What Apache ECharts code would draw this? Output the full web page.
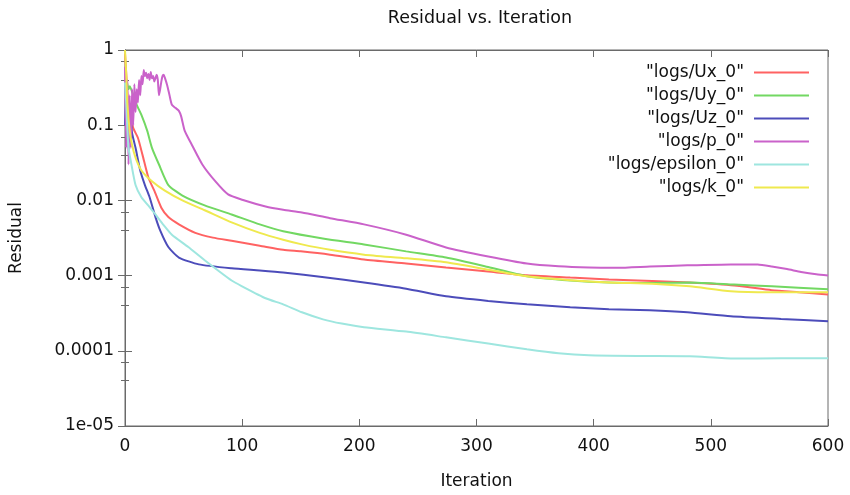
<!DOCTYPE html>
<html>
<head>
<meta charset="utf-8">
<script src="https://cdn.jsdelivr.net/npm/echarts@6/dist/echarts.min.js"></script>
<style>
html,body{margin:0;padding:0;background:#fff;}
#chart{width:850px;height:495px;}
</style>
</head>
<body>
<div id="chart"></div>
<script>
// ---- data ----
const seriesNames = ['"logs/Ux_0"', '"logs/Uy_0"', '"logs/Uz_0"', '"logs/p_0"', '"logs/epsilon_0"', '"logs/k_0"'];

const itUx  = [0, 1, 3, 7, 11, 15, 20, 25, 31, 37, 46, 60, 75, 91, 115, 135, 150, 175, 204, 240, 274, 310, 343, 380, 413, 450, 482, 520, 552, 575, 600];
const valUx = [0.9, 0.5, 0.17, 0.092, 0.068, 0.04, 0.02, 0.0135, 0.008, 0.006, 0.0048, 0.0037, 0.0032, 0.0029, 0.0025, 0.0022, 0.0021, 0.0019, 0.00164, 0.00145, 0.00128, 0.00113, 0.00101, 0.00094, 0.00089, 0.00085, 0.00081, 0.00074, 0.00064, 0.0006, 0.00056];

const itUy  = [0, 1, 2, 3, 4, 6, 10, 14, 19, 23, 29, 37, 49, 68, 91, 115, 135, 170, 204, 240, 274, 310, 343, 380, 413, 450, 482, 520, 552, 600];
const valUy = [0.35, 0.25, 0.36, 0.3, 0.33, 0.28, 0.187, 0.137, 0.084, 0.05, 0.03, 0.016, 0.0116, 0.0086, 0.0065, 0.0048, 0.0039, 0.0031, 0.0026, 0.0021, 0.00174, 0.0013, 0.00098, 0.00086, 0.00081, 0.0008, 0.00081, 0.00076, 0.00072, 0.00066];

const itUz  = [0, 1, 2, 3, 4, 5, 6, 9, 13, 17, 21, 26, 30, 37, 46, 63, 91, 115, 135, 170, 204, 240, 274, 310, 343, 380, 413, 448, 480, 517, 560, 600];
const valUz = [0.1, 0.3, 0.06, 0.15, 0.07, 0.12, 0.079, 0.05, 0.025, 0.016, 0.011, 0.006, 0.004, 0.0024, 0.00174, 0.00141, 0.00125, 0.00117, 0.0011, 0.00095, 0.00081, 0.00067, 0.00053, 0.00046, 0.000415, 0.00038, 0.000356, 0.000345, 0.000325, 0.000288, 0.000265, 0.000247];

const itP  = [0, 1, 2, 3, 4, 5, 6, 7, 8, 9, 10, 11, 12, 13, 14, 15, 16, 17, 18, 19, 20, 21, 22, 23, 24, 25, 26, 27, 28, 29, 30, 31, 32, 33, 34, 36, 38, 40, 43, 46, 48, 51, 57, 66, 77, 88, 100, 120, 135, 151, 175, 204, 240, 274, 310, 343, 370, 396, 420, 448, 480, 517, 540, 552, 565, 577, 590, 600];
const valP = [0.6, 0.05, 0.4, 0.03, 0.25, 0.05, 0.3, 0.1, 0.35, 0.15, 0.3, 0.2, 0.4, 0.25, 0.45, 0.35, 0.54, 0.45, 0.5, 0.42, 0.48, 0.4, 0.51, 0.42, 0.45, 0.38, 0.42, 0.47, 0.4, 0.25, 0.3, 0.38, 0.45, 0.47, 0.43, 0.34, 0.25, 0.187, 0.17, 0.155, 0.13, 0.084, 0.055, 0.03, 0.018, 0.012, 0.0102, 0.0083, 0.0075, 0.0069, 0.0058, 0.0048, 0.0035, 0.00237, 0.0018, 0.00145, 0.00133, 0.00128, 0.00127, 0.00132, 0.00137, 0.00141, 0.0014, 0.00132, 0.00122, 0.00112, 0.00104, 0.001];

const itEps  = [0, 1, 2, 3, 5, 9, 14, 20, 26, 33, 40, 54, 68, 91, 100, 120, 135, 151, 169, 185, 204, 240, 274, 310, 343, 370, 396, 440, 482, 520, 560, 600];
const valEps = [0.37, 0.2, 0.09, 0.05, 0.033, 0.016, 0.011, 0.0085, 0.0065, 0.0047, 0.0035, 0.0024, 0.0016, 0.00086, 0.00072, 0.0005, 0.000415, 0.000325, 0.000262, 0.00023, 0.000206, 0.00018, 0.000151, 0.000125, 0.000105, 0.000093, 0.0000874, 0.0000855, 0.0000848, 0.000079, 0.0000795, 0.0000798];

const itK  = [0, 1, 2, 4, 6, 9, 14, 23, 34, 49, 68, 91, 115, 135, 151, 175, 204, 240, 274, 310, 343, 380, 413, 450, 482, 517, 550, 600];
const valK = [1.0, 0.5, 0.2, 0.084, 0.055, 0.037, 0.025, 0.018, 0.0135, 0.01, 0.0074, 0.0051, 0.0037, 0.003, 0.0026, 0.0022, 0.0019, 0.0017, 0.0015, 0.0012, 0.00098, 0.00087, 0.00081, 0.00078, 0.00072, 0.00062, 0.0006, 0.0006];

const xTickLabels = ['0', '100', '200', '300', '400', '500', '600'];
const yTickLabels = ['1e-05', '0.0001', '0.001', '0.01', '0.1', '1'];

// ---- chart ----
const colors = ['#ff6262', '#72d862', '#4c4cba', '#ca62ca', '#9ee6df', '#efe94e'];
const its = [itUx, itUy, itUz, itP, itEps, itK];
const vals = [valUx, valUy, valUz, valP, valEps, valK];
const FONT = 'DejaVu Sans';
const axisColor = '#6a6a6a';

function pairs(xs, ys) { return xs.map((x, i) => [x, ys[i]]); }

const series = seriesNames.map((name, i) => ({
  name: name,
  type: 'line',
  data: pairs(its[i], vals[i]),
  symbol: 'none',
  smooth: 0.2,
  color: colors[i],
  lineStyle: { width: 2, color: colors[i] },
  xAxisIndex: 0,
  yAxisIndex: 0,
  animation: false
}));

const chart = echarts.init(document.getElementById('chart'), null, { renderer: 'canvas' });
chart.setOption({
  backgroundColor: '#ffffff',
  animation: false,
  title: {
    text: 'Residual vs. Iteration',
    left: 475, top: 4, textAlign: 'center',
    textStyle: { fontFamily: FONT, fontSize: 17.5, fontWeight: 'normal', color: '#111' }
  },
  grid: { left: 123, right: 22, top: 50, bottom: 68, show: true, borderColor: axisColor, borderWidth: 1 },
  legend: {
    orient: 'vertical',
    right: 36, top: 58,
    align: 'right',
    icon: 'rect',
    itemWidth: 55, itemHeight: 2, itemGap: 4,
    textStyle: { fontFamily: FONT, fontSize: 17, color: '#111', padding: [0, 5, 0, 0], lineHeight: 19 },
    data: seriesNames
  },
  xAxis: [{
    type: 'value', min: 0, max: 600, interval: 100, position: 'bottom',
    name: 'Iteration', nameLocation: 'middle', nameGap: 47,
    nameTextStyle: { fontFamily: FONT, fontSize: 17, color: '#111' },
    axisLine: { show: true, lineStyle: { color: axisColor } },
    axisTick: { show: true, inside: true, length: 7, lineStyle: { color: axisColor } },
    axisLabel: { fontFamily: FONT, fontSize: 17, color: '#111', margin: 12,
      formatter: v => xTickLabels[Math.round(v / 100)] },
    splitLine: { show: false }
  }, {
    type: 'value', min: 0, max: 600, interval: 100, position: 'top',
    axisLine: { show: true, lineStyle: { color: axisColor } },
    axisTick: { show: true, inside: true, length: 7, lineStyle: { color: axisColor } },
    axisLabel: { show: false }, splitLine: { show: false }
  }],
  yAxis: [{
    type: 'log', logBase: 10, min: 1e-5, max: 1, position: 'left',
    name: 'Residual', nameLocation: 'middle', nameGap: 100, nameRotate: 90,
    nameTextStyle: { fontFamily: FONT, fontSize: 17, color: '#111' },
    axisLine: { show: true, lineStyle: { color: axisColor } },
    axisTick: { show: true, inside: true, length: 7, lineStyle: { color: axisColor } },
    minorTick: { show: true, splitNumber: 3, length: 4, lineStyle: { color: axisColor } },
    axisLabel: { fontFamily: FONT, fontSize: 17, color: '#111', margin: 11,
      formatter: v => yTickLabels[Math.round(Math.log10(v)) + 5] },
    splitLine: { show: false }, minorSplitLine: { show: false }
  }, {
    type: 'log', logBase: 10, min: 1e-5, max: 1, position: 'right',
    axisLine: { show: true, lineStyle: { color: axisColor } },
    axisTick: { show: true, inside: true, length: 7, lineStyle: { color: axisColor } },
    minorTick: { show: true, splitNumber: 3, length: 4, lineStyle: { color: axisColor } },
    axisLabel: { show: false }, splitLine: { show: false }
  }],
  series: series
});
</script>
</body>
</html>
